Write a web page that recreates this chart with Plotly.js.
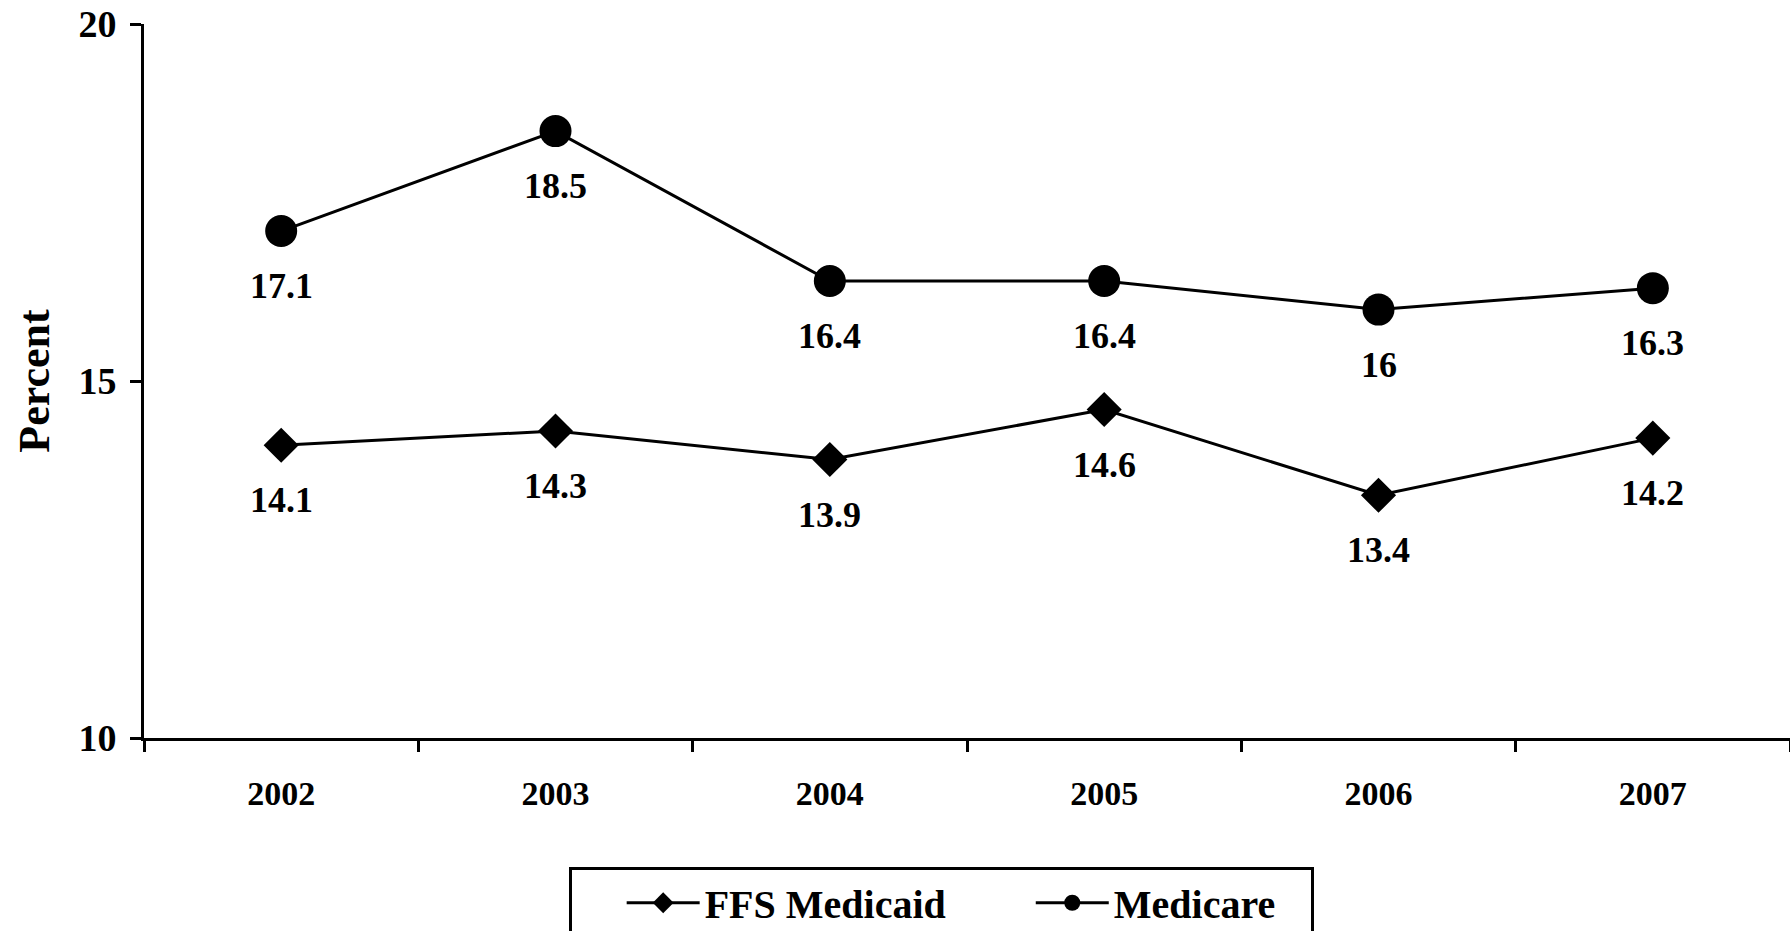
<!DOCTYPE html>
<html>
<head>
<meta charset="utf-8">
<script src="https://cdn.plot.ly/plotly-3.0.1.min.js"></script>
<style>
html,body{margin:0;padding:0;background:#fff;}
#chart{width:1790px;height:931px;}
</style>
</head>
<body>
<div id="chart"></div>
<script>
const years = ['2002', '2003', '2004', '2005', '2006', '2007'];
const seriesNames = ['FFS Medicaid', 'Medicare'];
const ffsMedicaid = [14.1, 14.3, 13.9, 14.6, 13.4, 14.2];
const medicare = [17.1, 18.5, 16.4, 16.4, 16, 16.3];
const yTicks = [10, 15, 20];

const FONT = 'Liberation Serif, Times New Roman, serif';
const NB = '\u00A0';

const traces = [
  {
    x: years, y: ffsMedicaid, name: seriesNames[0] + NB.repeat(8), type: 'scatter', mode: 'lines+markers',
    line: {color: '#000', width: 3},
    marker: {symbol: 'diamond', size: 27, color: '#000'}
  },
  {
    x: years, y: medicare, name: seriesNames[1] + NB.repeat(3), type: 'scatter', mode: 'lines+markers',
    line: {color: '#000', width: 3},
    marker: {symbol: 'circle', size: 32, color: '#000'}
  }
];

const annotations = [];
[ffsMedicaid, medicare].forEach(series => {
  series.forEach((v, i) => {
    annotations.push({
      x: i, y: v, xref: 'x', yref: 'y', text: '<b>' + String(v) + '</b>',
      showarrow: false, yshift: -55,
      font: {family: FONT, size: 36, color: '#000'}
    });
  });
});

const layout = {
  width: 1790, height: 931,
  margin: {l: 144, r: 0, t: 24, b: 193, autoexpand: false},
  paper_bgcolor: '#fff', plot_bgcolor: '#fff',
  font: {family: FONT, color: '#000', weight: 'bold'},
  showlegend: true,
  xaxis: {
    type: 'category', range: [-0.5, 5.5], automargin: false,
    showline: true, linecolor: '#000', linewidth: 3,
    showgrid: false, zeroline: false,
    ticks: 'outside', tickson: 'boundaries', ticklen: 11, tickwidth: 3, tickcolor: '#000',
    tickfont: {family: FONT, size: 34, color: '#000', weight: 'bold'},
    ticklabelstandoff: 23
  },
  yaxis: {
    range: [10, 20], tickvals: yTicks, automargin: false,
    showline: true, linecolor: '#000', linewidth: 3,
    showgrid: false, zeroline: false,
    ticks: 'outside', ticklen: 11, tickwidth: 3, tickcolor: '#000',
    tickfont: {family: FONT, size: 38, color: '#000', weight: 'bold'},
    ticklabelstandoff: 6,
    title: {text: 'Percent', font: {family: FONT, size: 44, color: '#000', weight: 'bold'}, standoff: 16}
  },
  legend: {
    orientation: 'h', x: 0.258, xanchor: 'left', y: -0.181, yanchor: 'top',
    bordercolor: '#000', borderwidth: 3, bgcolor: '#fff',
    font: {family: FONT, size: 40, color: '#000', weight: 'bold'},
    title: {text: NB.repeat(4), side: 'left', font: {family: FONT, size: 40}},
    itemwidth: 73
  },
  annotations: annotations
};

Plotly.newPlot('chart', traces, layout, {displayModeBar: false, staticPlot: true});
</script>
</body>
</html>
